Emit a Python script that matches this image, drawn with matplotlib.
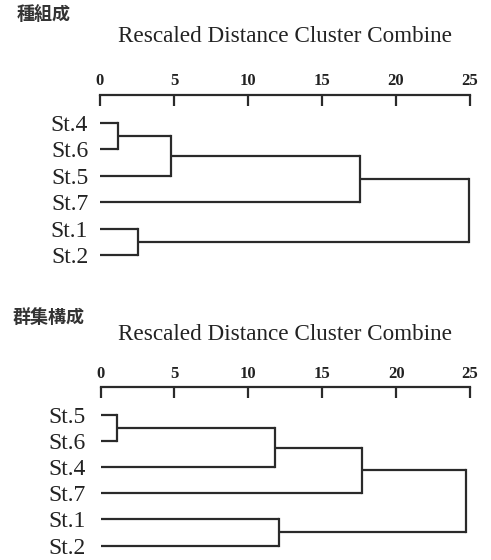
import matplotlib
matplotlib.use("Agg")
import matplotlib.pyplot as plt

# ---------------- data ----------------
top_title = "種組成"
top_labels = ["St.4", "St.6", "St.5", "St.7", "St.1", "St.2"]
# merges: (child_a, child_b, rescaled distance); leaves 0..5, new clusters 6..
top_merge_a = [0, 6, 4, 7, 9]
top_merge_b = [1, 2, 5, 3, 8]
top_merge_h = [1.2, 4.8, 2.6, 17.6, 24.9]

bot_title = "群集構成"
bot_labels = ["St.5", "St.6", "St.4", "St.7", "St.1", "St.2"]
bot_merge_a = [0, 6, 4, 7, 9]
bot_merge_b = [1, 2, 5, 3, 8]
bot_merge_h = [1.1, 11.8, 12.1, 17.7, 24.7]

axis_title = "Rescaled Distance Cluster Combine"
ticks = [0, 5, 10, 15, 20, 25]

W, H = 491, 560
fig = plt.figure(figsize=(W / 100, H / 100), dpi=100)
fig.patch.set_facecolor("white")

LC = "#2a2a2a"
SERIF = ["Liberation Serif", "DejaVu Serif"]
CJK = ["Noto Sans CJK JP", "DejaVu Sans"]


def px_axes(x0, y_top, x1, y_bot):
    return fig.add_axes([x0 / W, 1 - y_bot / H, (x1 - x0) / W, (y_bot - y_top) / H])


def draw_panel(ax, labels, ma, mb, mh, ylim, ypad, xpad):
    n = len(labels)
    ypos = {i: float(i) for i in range(n)}
    xpos = {i: 0.0 for i in range(n)}
    for k, (a, b, h) in enumerate(zip(ma, mb, mh)):
        for c in (a, b):
            ax.plot([xpos[c], h], [ypos[c], ypos[c]], color=LC, lw=1.6,
                    solid_capstyle="butt", clip_on=False)
        ax.plot([h, h], [ypos[a], ypos[b]], color=LC, lw=1.6,
                solid_capstyle="projecting", clip_on=False)
        new = n + k
        ypos[new] = (ypos[a] + ypos[b]) / 2
        xpos[new] = h
    ax.set_xlim(0, 25)
    ax.set_ylim(*ylim)
    for s in ("left", "right", "bottom"):
        ax.spines[s].set_visible(False)
    ax.spines["top"].set_color(LC)
    ax.spines["top"].set_linewidth(1.6)
    ax.xaxis.set_ticks_position("top")
    ax.set_xticks(ticks)
    ax.set_xticklabels([str(t) for t in ticks], fontfamily=SERIF,
                       fontweight="bold", fontsize=12, color="#222222")
    ax.tick_params(axis="x", direction="in", length=8, width=1.6, color=LC, pad=xpad)
    ax.set_yticks(range(n))
    ax.set_yticklabels(labels, fontfamily=SERIF, fontsize=17, color="#222222")
    ax.tick_params(axis="y", length=0, pad=ypad)
    ax.patch.set_alpha(0)


# top panel: axis line at ~95 px, leaves from ~122.7 px with spacing ~26.5 px
ax1 = px_axes(100, 95, 470, 270)
sp1 = 26.5
draw_panel(ax1, top_labels, top_merge_a, top_merge_b, top_merge_h,
           ((270 - 122.7) / sp1, -(122.7 - 95) / sp1), ypad=8.5, xpad=4.5)

# bottom panel: axis line at ~386.7 px, leaves from ~415 px with spacing ~26.1 px
ax2 = px_axes(100.5, 386.7, 470, 558)
sp2 = 26.1
draw_panel(ax2, bot_labels, bot_merge_a, bot_merge_b, bot_merge_h,
           ((558 - 415) / sp2, -(415 - 386.7) / sp2), ypad=10.5, xpad=3.5)

fig.text(285 / W, 1 - 36 / H, axis_title, fontfamily=SERIF, fontsize=16.7,
         ha="center", va="center", color="#222222")
fig.text(285 / W, 1 - 335 / H, axis_title, fontfamily=SERIF, fontsize=16.7,
         ha="center", va="center", color="#222222")
fig.text(17 / W, 1 - 15 / H, top_title, fontfamily=CJK, fontsize=13,
         fontweight="bold", ha="left", va="center", color="#333333")
fig.text(13 / W, 1 - 317 / H, bot_title, fontfamily=CJK, fontsize=13,
         fontweight="bold", ha="left", va="center", color="#333333")

fig.savefig("out.png", dpi=100, facecolor="white")
